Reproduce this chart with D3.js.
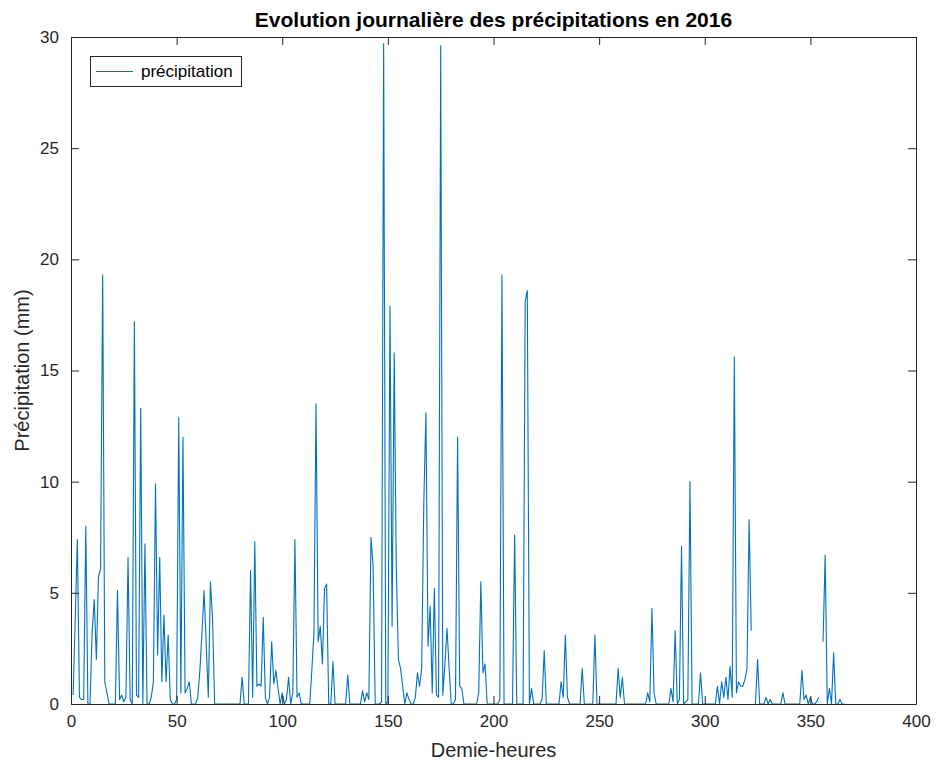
<!DOCTYPE html>
<html>
<head>
<meta charset="utf-8">
<script src="https://cdn.jsdelivr.net/npm/d3@7"></script>
<style>
  html, body { margin: 0; padding: 0; background: #ffffff; }
  svg { display: block; font-family: "Liberation Sans", Arial, Helvetica, sans-serif; }
</style>
</head>
<body>
<svg id="chart" width="938" height="765"></svg>
<script>
// Daily precipitation (mm), day 1 to day 366 of 2016; null = missing reading
const precipitation = [
  0.4, 3.8, 7.4, 0.3, 0.2, 0.2, 8.0, 0, 0, 3.2,
  4.7, 2.0, 5.7, 6.1, 19.3, 1.0, 0.5, 0, 0, 0,
  0, 5.1, 0.2, 0.4, 0.1, 0.3, 6.6, 0.2, 0, 17.2,
  0.4, 0.3, 13.3, 0, 7.2, 0, 0, 0.3, 1.0, 9.9,
  2.2, 6.6, 1.0, 4.0, 1.0, 3.1, 0.2, 0, 0, 0.2,
  12.9, 0.5, 12.0, 0.5, 0.7, 1.0, 0, 0, 0, 0.3,
  1.5, 3.2, 5.1, 2.7, 0.3, 5.5, 3.8, 0, 0, 0,
  0, 0, 0, 0, 0, 0, 0, 0, 0, 0,
  1.2, 0, 0, 0, 6.0, 0.3, 7.3, 0.8, 0.9, 0.8,
  3.9, 0.3, 0, 0.3, 2.8, 0.9, 1.5, 0.7, 0, 0.5,
  0, 0.2, 1.2, 0, 0.5, 7.4, 0.3, 0.5, 0, 0,
  0, 0, 0, 1.5, 3.2, 13.5, 2.8, 3.5, 1.8, 5.2,
  5.4, 0, 0, 1.9, 0, 0, 0, 0, 0, 0,
  1.3, 0, 0, 0, 0, 0, 0, 0.6, 0.1, 0.5,
  0.2, 7.5, 6.2, 0, 0, 0, 0.1, 29.7, 0, 0.1,
  17.9, 3.5, 15.8, 6.0, 2.0, 1.6, 0.8, 0, 0.5, 0.2,
  0, 0, 0.3, 1.4, 0.8, 1.6, 9.0, 13.1, 2.6, 4.4,
  0.5, 5.2, 0.4, 0.3, 29.6, 0.4, 1.8, 3.4, 1.6, 0,
  0, 0.2, 12.0, 0.8, 0.7, 0, 0, 0, 0, 0,
  0, 0, 0.5, 5.5, 1.4, 1.8, 0, 0, 0, 0,
  0, 0, 0.2, 19.3, 0, 0, 0, 0, 0, 7.6,
  0, 0, 0, 0, 18.1, 18.6, 0, 0.7, 0, 0,
  0, 0, 0.2, 2.4, 0, 0, 0, 0, 0, 0,
  0, 1.0, 0.3, 3.1, 0.3, 0, 0, 0, 0, 0,
  0, 1.6, 0, 0, 0, 0, 0, 3.1, 0, 0,
  0, 0, 0, 0, 0, 0, 0, 0, 1.6, 0.3,
  1.2, 0, 0, 0, 0, 0, 0, 0, 0, 0,
  0, 0, 0.5, 0.1, 4.3, 0.5, 0, 0, 0, 0,
  0, 0, 0, 0.7, 0.1, 3.3, 0, 0.2, 7.1, 0,
  0.1, 0.2, 10.0, 0, 0, 0, 0, 1.4, 0, 0,
  0, 0, 0, 0, 0, 0.8, 0, 1.0, 0.3, 1.2,
  0.2, 1.7, 0.3, 15.6, 0.5, 1.0, 0.8, 0.8, 1.1, 1.6,
  8.3, 3.3, null, 0, 2.0, 0, 0, 0, 0.3, 0,
  0.2, 0, 0, 0, 0, 0, 0.5, 0, 0, 0,
  0, 0, 0, 0, 0, 1.5, 0.2, 0.4, 0, 0.3,
  0, 0, 0.1, 0.3, null, 2.8, 6.7, 0, 0.7, 0,
  2.3, 0, 0, 0.2, 0, 0
];
const days = precipitation.map((_, i) => i + 1);

const xTicks = [0, 50, 100, 150, 200, 250, 300, 350, 400];
const yTicks = [0, 5, 10, 15, 20, 25, 30];

const titleText = "Evolution journalière des précipitations en 2016";
const xLabelText = "Demie-heures";
const yLabelText = "Précipitation (mm)";
const legendText = "précipitation";

const lineColor = "#0072bd";
const axisColor = "#262626";
const fontStack = '"Liberation Sans", Arial, Helvetica, sans-serif';

const margin = { left: 71, right: 22, top: 37, bottom: 61 };
const W = 938, H = 765;
const plotW = W - margin.left - margin.right;
const plotH = H - margin.top - margin.bottom;

const svg = d3.select("#chart");
const g = svg.append("g").attr("transform", `translate(${margin.left},${margin.top})`);

const x = d3.scaleLinear().domain([0, 400]).range([0, plotW]);
const y = d3.scaleLinear().domain([0, 30]).range([plotH, 0]);

// Precipitation line (gaps where data is missing)
const line = d3.line()
  .defined(d => d[1] !== null)
  .x(d => x(d[0]))
  .y(d => y(d[1]));

g.append("path")
  .datum(days.map((d, i) => [d, precipitation[i]]))
  .attr("fill", "none")
  .attr("stroke", lineColor)
  .attr("stroke-width", 1.1)
  .attr("stroke-linejoin", "round")
  .attr("d", line);

// Axes with inward ticks on all four sides
const tickLen = 8;
const styleAxis = sel => {
  sel.select(".domain").attr("stroke", axisColor).attr("stroke-width", 1);
  sel.selectAll(".tick line").attr("stroke", axisColor);
  sel.selectAll(".tick text").attr("fill", axisColor)
    .style("font-family", fontStack)
    .style("font-size", "17px");
};

g.append("g")
  .attr("transform", `translate(0,${plotH})`)
  .call(d3.axisBottom(x).tickValues(xTicks).tickSize(-tickLen).tickSizeOuter(0).tickPadding(11))
  .call(styleAxis);

g.append("g")
  .call(d3.axisLeft(y).tickValues(yTicks).tickSize(-tickLen).tickSizeOuter(0).tickPadding(12))
  .call(styleAxis);

g.append("g")
  .call(d3.axisTop(x).tickValues(xTicks).tickSize(-tickLen).tickSizeOuter(0).tickFormat(""))
  .call(styleAxis);

g.append("g")
  .attr("transform", `translate(${plotW},0)`)
  .call(d3.axisRight(y).tickValues(yTicks).tickSize(-tickLen).tickSizeOuter(0).tickFormat(""))
  .call(styleAxis);

// Title and axis labels
svg.append("text")
  .attr("x", margin.left + plotW / 2)
  .attr("y", 27)
  .attr("text-anchor", "middle")
  .attr("fill", "#000")
  .style("font-size", "21px")
  .style("font-weight", "bold")
  .text(titleText);

svg.append("text")
  .attr("x", margin.left + plotW / 2)
  .attr("y", 757)
  .attr("text-anchor", "middle")
  .attr("fill", axisColor)
  .style("font-size", "20px")
  .text(xLabelText);

svg.append("text")
  .attr("transform", `translate(29,${margin.top + plotH / 2}) rotate(-90)`)
  .attr("text-anchor", "middle")
  .attr("fill", axisColor)
  .style("font-size", "20px")
  .text(yLabelText);

// Legend
const legend = g.append("g").attr("transform", "translate(19,19)");
legend.append("rect")
  .attr("x", 0.5).attr("y", 0.5)
  .attr("width", 151).attr("height", 30)
  .attr("fill", "#fff")
  .attr("stroke", axisColor)
  .attr("stroke-width", 1);
legend.append("line")
  .attr("x1", 6).attr("x2", 43)
  .attr("y1", 15.5).attr("y2", 15.5)
  .attr("stroke", lineColor)
  .attr("stroke-width", 1.1);
legend.append("text")
  .attr("x", 51).attr("y", 21)
  .attr("fill", "#000")
  .style("font-size", "17px")
  .text(legendText);
</script>
</body>
</html>
